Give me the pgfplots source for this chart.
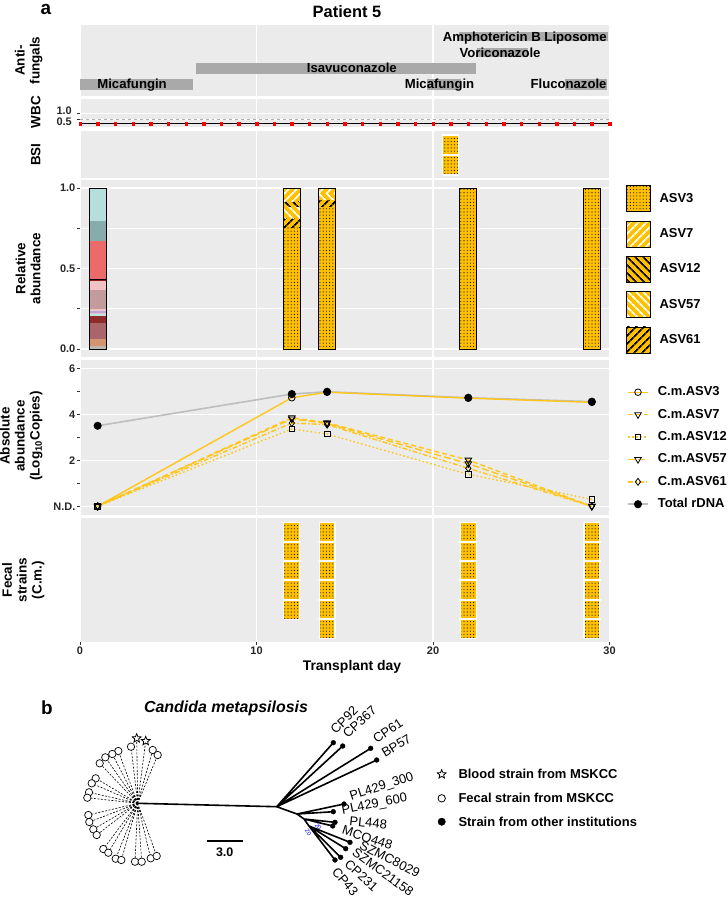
\documentclass[border=0pt]{standalone}
\usepackage{fontspec}
\setmainfont{Liberation Sans}
\usepackage{pgfplots}
\pgfplotsset{compat=1.18}
\usetikzlibrary{patterns.meta}

\definecolor{Panel}{HTML}{EBEBEB}
\definecolor{Drug}{HTML}{A9A9A9}
\definecolor{Gold}{HTML}{FFC000}
\definecolor{GoldLine}{HTML}{FFC61A}
\definecolor{TickC}{HTML}{333333}
\definecolor{Rdna}{HTML}{BEBEBE}
% day 1 community colours
\definecolor{cA}{HTML}{B6DFDC}
\definecolor{cB}{HTML}{87ADAA}
\definecolor{cC}{HTML}{EB6B6B}
\definecolor{cD}{HTML}{8B1A1A}
\definecolor{cE}{HTML}{F1C3C3}
\definecolor{cF}{HTML}{C29C9C}
\definecolor{cG}{HTML}{E5C2CF}
\definecolor{cH}{HTML}{B9A9D9}
\definecolor{cI}{HTML}{BFE3E0}
\definecolor{cJ}{HTML}{8E2B2B}
\definecolor{cK}{HTML}{A9666A}
\definecolor{cL}{HTML}{D2956F}
\definecolor{cM}{HTML}{BDB6AE}

\newcommand\tickfont{\fontsize{11}{12}\selectfont\bfseries}
\newcommand\titlefont{\fontsize{13.5}{15}\selectfont\bfseries}
\newcommand\drugfont{\fontsize{13.2}{15}\selectfont\bfseries}
\newcommand\treefont{\fontsize{13}{15}\selectfont}

\pgfdeclareplotmark{ostar}{%
  \pgfpathmoveto{\pgfqpointpolar{90}{\pgfplotmarksize}}%
  \pgfpathlineto{\pgfqpointpolar{126}{0.45\pgfplotmarksize}}%
  \pgfpathlineto{\pgfqpointpolar{162}{\pgfplotmarksize}}%
  \pgfpathlineto{\pgfqpointpolar{198}{0.45\pgfplotmarksize}}%
  \pgfpathlineto{\pgfqpointpolar{234}{\pgfplotmarksize}}%
  \pgfpathlineto{\pgfqpointpolar{270}{0.45\pgfplotmarksize}}%
  \pgfpathlineto{\pgfqpointpolar{306}{\pgfplotmarksize}}%
  \pgfpathlineto{\pgfqpointpolar{342}{0.45\pgfplotmarksize}}%
  \pgfpathlineto{\pgfqpointpolar{18}{\pgfplotmarksize}}%
  \pgfpathlineto{\pgfqpointpolar{54}{0.45\pgfplotmarksize}}%
  \pgfpathclose
  \pgfusepathqfillstroke
}

\tikzset{
  asvdots/.style={preaction={fill=Gold}, pattern={Dots[distance=3.2bp,radius=0.55bp]}, pattern color=black},
  asvseven/.style={preaction={fill=Gold}, pattern={Lines[angle=45,distance=6bp,line width=2bp]}, pattern color=white},
  asvtwelve/.style={preaction={fill=Gold}, pattern={Lines[angle=-45,distance=6bp,line width=2bp]}, pattern color=black},
  asvfiftyseven/.style={preaction={fill=Gold}, pattern={Lines[angle=-45,distance=6bp,line width=2bp]}, pattern color=white},
  asvsixtyone/.style={preaction={fill=Gold}, pattern={Lines[angle=45,distance=6bp,line width=2bp]}, pattern color=black},
}

\pgfplotsset{
  panel/.style={
    scale only axis, width=529.5bp, xmin=0, xmax=30,
    anchor=north west,
    axis background/.style={fill=Panel},
    separate axis lines, axis line style={draw=none},
    tick pos=left, tick align=outside,
    major tick length=3bp, minor tick length=3bp,
    xtick={0,10,20,30}, xticklabels={}, xtick style={draw=none},
    ytick style={draw=TickC, line width=0.6bp},
    xmajorgrids, ymajorgrids,
    major grid style={white, line width=1.1bp},
    ticklabel style={font=\tickfont, text=black!85},
    yticklabel style={inner sep=1.5bp},
    unbounded coords=jump,
  },
}

\begin{document}
\begin{tikzpicture}
\useasboundingbox (0,0) rectangle (728bp,-900bp);
\node[font=\fontsize{19}{21}\selectfont\bfseries, inner sep=0pt] at (46bp,-9bp) {a};
\node[font=\fontsize{16.5}{18}\selectfont\bfseries] at (347bp,-12bp) {Patient 5};

% ---------- y titles ----------
\node[font=\titlefont, rotate=90, anchor=south, align=center] at (46bp,-60.5bp) {Anti-\\fungals};
\node[font=\titlefont, rotate=90, anchor=south, align=center] at (44bp,-112bp) {WBC};
\node[font=\titlefont, rotate=90, anchor=south, align=center] at (44bp,-154.5bp) {BSI};
\node[font=\titlefont, rotate=90, anchor=south, align=center] at (44bp,-268.5bp) {Relative\\abundance};
\node[font=\titlefont, rotate=90, anchor=south, align=center] at (46bp,-436bp) {Absolute\\abundance\\(Log\textsubscript{10}Copies)};
\node[font=\titlefont, rotate=90, anchor=south, align=center] at (48bp,-580bp) {Fecal\\strains\\(C.m.)};
\node[font=\fontsize{14}{16}\selectfont\bfseries] at (352bp,-667bp) {Transplant day};
% WBC tick labels, set apart as in the reference
\node[font=\tickfont, text=black!85, anchor=east, inner sep=0pt] at (72bp,-111bp) {1.0};
\node[font=\tickfont, text=black!85, anchor=east, inner sep=0pt] at (72bp,-121.3bp) {0.5};

% ---------- antifungals ----------
\begin{axis}[panel, at={(80bp,-25bp)}, height=71bp, ymin=0.28, ymax=4.72, ytick=\empty]
  \addplot[fill=Drug, draw=none] coordinates {(0,0.66)(6.4,0.66)(6.4,1.34)(0,1.34)};
  \addplot[fill=Drug, draw=none] coordinates {(19.66,0.66)(21.6,0.66)(21.6,1.34)(19.66,1.34)};
  \addplot[fill=Drug, draw=none] coordinates {(27.5,0.66)(29.85,0.66)(29.85,1.34)(27.5,1.34)};
  \addplot[fill=Drug, draw=none] coordinates {(6.57,1.67)(22.45,1.67)(22.45,2.33)(6.57,2.33)};
  \addplot[fill=Drug, draw=none] coordinates {(22.5,2.7)(25.4,2.7)(25.4,3.3)(22.5,3.3)};
  \addplot[fill=Drug, draw=none] coordinates {(21.5,3.7)(29.9,3.7)(29.9,4.3)(21.5,4.3)};
  \node[font=\drugfont, anchor=base, yshift=-4.5bp] at (axis cs:2.95,1) {Micafungin};
  \node[font=\drugfont, anchor=base, yshift=-4.5bp] at (axis cs:20.37,1) {Micafungin};
  \node[font=\drugfont, anchor=base, yshift=-4.5bp] at (axis cs:27.68,1) {Fluconazole};
  \node[font=\drugfont, anchor=base, yshift=-4.5bp] at (axis cs:15.4,2) {Isavuconazole};
  \node[font=\drugfont, anchor=base, yshift=-4.5bp] at (axis cs:23.8,3) {Voriconazole};
  \node[font=\drugfont, anchor=base, yshift=-4.5bp] at (axis cs:25.2,4) {Amphotericin B Liposome};
\end{axis}

% ---------- WBC ----------
\begin{axis}[panel, at={(80bp,-99bp)}, height=28bp, ymin=-0.14, ymax=2.2,
  ytick={0.5,1}, yticklabels={,}]
  \addplot[black!30, dashed, line width=0.8bp] coordinates {(0,0.5)(30,0.5)};
  \addplot[black, line width=0.8bp] coordinates {(0,0.15)(30,0.15)};
  \addplot[only marks, mark=square*, mark size=1.2bp, red] coordinates {
    (0,0.15)(1,0.15)(2,0.15)(3,0.15)(4,0.15)(5,0.15)(6,0.15)(7,0.15)(8,0.15)(9,0.15)
    (10,0.15)(11,0.15)(12,0.15)(13,0.15)(14,0.15)(15,0.15)(16,0.15)(17,0.15)(18,0.15)(19,0.15)
    (20,0.15)(21,0.15)(22,0.15)(23,0.15)(24,0.15)(25,0.15)(26,0.15)(27,0.15)(28,0.15)(29,0.15)(30,0.15)};
\end{axis}

% ---------- BSI ----------
\begin{axis}[panel, at={(80bp,-131bp)}, height=47bp, ymin=0.35, ymax=2.7, ytick=\empty]
  \addplot[asvdots, draw=white, line width=1.2bp] coordinates {(20.55,0.5)(21.45,0.5)(21.45,2.5)(20.55,2.5)(20.55,0.5)};
  \addplot[white, line width=2bp] coordinates {(20.5,1.5)(21.5,1.5)};
\end{axis}

% ---------- relative abundance ----------
\begin{axis}[panel, at={(80bp,-180bp)}, height=177bp, ymin=-0.05, ymax=1.05,
  ytick={0,0.25,0.5,0.75,1}, yticklabels={0.0,,0.5,,1.0},
  legend image code/.code={\path[#1] (0bp,-13bp) rectangle (24bp,13bp);},
  legend style={at={(1,1)}, anchor=north west, xshift=16.5bp, yshift=-5bp,
    draw=none, fill=none, inner sep=0pt, row sep=9bp, column sep=9bp,
    nodes={inner sep=0pt}, font=\fontsize{13}{15}\selectfont\bfseries},
  legend cell align=left]
  % day 1
  \addplot[fill=cM, draw=none, forget plot] coordinates {(0.52,0)(1.48,0)(1.48,0.02)(0.52,0.02)};
  \addplot[fill=cL, draw=none, forget plot] coordinates {(0.52,0.02)(1.48,0.02)(1.48,0.06)(0.52,0.06)};
  \addplot[fill=cK, draw=none, forget plot] coordinates {(0.52,0.06)(1.48,0.06)(1.48,0.164)(0.52,0.164)};
  \addplot[fill=cJ, draw=none, forget plot] coordinates {(0.52,0.164)(1.48,0.164)(1.48,0.205)(0.52,0.205)};
  \addplot[fill=cI, draw=none, forget plot] coordinates {(0.52,0.205)(1.48,0.205)(1.48,0.215)(0.52,0.215)};
  \addplot[fill=cG, draw=none, forget plot] coordinates {(0.52,0.215)(1.48,0.215)(1.48,0.225)(0.52,0.225)};
  \addplot[fill=cH, draw=none, forget plot] coordinates {(0.52,0.225)(1.48,0.225)(1.48,0.235)(0.52,0.235)};
  \addplot[fill=cE, draw=none, forget plot] coordinates {(0.52,0.235)(1.48,0.235)(1.48,0.247)(0.52,0.247)};
  \addplot[fill=cF, draw=none, forget plot] coordinates {(0.52,0.247)(1.48,0.247)(1.48,0.367)(0.52,0.367)};
  \addplot[fill=cE, draw=none, forget plot] coordinates {(0.52,0.367)(1.48,0.367)(1.48,0.425)(0.52,0.425)};
  \addplot[fill=cD, draw=none, forget plot] coordinates {(0.52,0.425)(1.48,0.425)(1.48,0.434)(0.52,0.434)};
  \addplot[fill=cC, draw=none, forget plot] coordinates {(0.52,0.434)(1.48,0.434)(1.48,0.672)(0.52,0.672)};
  \addplot[fill=cB, draw=none, forget plot] coordinates {(0.52,0.672)(1.48,0.672)(1.48,0.797)(0.52,0.797)};
  \addplot[fill=cA, draw=none, forget plot] coordinates {(0.52,0.797)(1.48,0.797)(1.48,1)(0.52,1)};
  % day 12
  \addplot[asvdots, draw=none, forget plot] coordinates {(11.52,0)(12.48,0)(12.48,0.757)(11.52,0.757)};
  \addplot[asvsixtyone, draw=none, forget plot] coordinates {(11.52,0.757)(12.48,0.757)(12.48,0.813)(11.52,0.813)};
  \addplot[asvfiftyseven, draw=none, forget plot] coordinates {(11.52,0.813)(12.48,0.813)(12.48,0.886)(11.52,0.886)};
  \addplot[asvtwelve, draw=none, forget plot] coordinates {(11.52,0.886)(12.48,0.886)(12.48,0.917)(11.52,0.917)};
  \addplot[asvseven, draw=none, forget plot] coordinates {(11.52,0.917)(12.48,0.917)(12.48,1)(11.52,1)};
  % day 14
  \addplot[asvdots, draw=none, forget plot] coordinates {(13.52,0)(14.48,0)(14.48,0.886)(13.52,0.886)};
  \addplot[asvsixtyone, draw=none, forget plot] coordinates {(13.52,0.886)(14.48,0.886)(14.48,0.927)(13.52,0.927)};
  \addplot[asvfiftyseven, draw=none, forget plot] coordinates {(13.52,0.927)(14.48,0.927)(14.48,0.97)(13.52,0.97)};
  \addplot[asvseven, draw=none, forget plot] coordinates {(13.52,0.97)(14.48,0.97)(14.48,1)(13.52,1)};
  % days 22 and 29
  \addplot[asvdots, draw=none, forget plot] coordinates {(21.52,0)(22.48,0)(22.48,1)(21.52,1)};
  \addplot[asvdots, draw=none, forget plot] coordinates {(28.52,0)(29.48,0)(29.48,1)(28.52,1)};
  % outlines
  \addplot[black, line width=0.9bp, line cap=rect, forget plot] coordinates {
    (0.52,0)(1.48,0)(1.48,1)(0.52,1)(0.52,0)(nan,nan)
    (11.52,0)(12.48,0)(12.48,1)(11.52,1)(11.52,0)(nan,nan)
    (13.52,0)(14.48,0)(14.48,1)(13.52,1)(13.52,0)(nan,nan)
    (21.52,0)(22.48,0)(22.48,1)(21.52,1)(21.52,0)(nan,nan)
    (28.52,0)(29.48,0)(29.48,1)(28.52,1)(28.52,0)};
  \addplot[black, line width=0.9bp, forget plot] coordinates {(0.52,0.43)(1.48,0.43)};
  \addlegendimage{asvdots}\addlegendentry{ASV3}
  \addlegendimage{asvseven}\addlegendentry{ASV7}
  \addlegendimage{asvtwelve}\addlegendentry{ASV12}
  \addlegendimage{asvfiftyseven}\addlegendentry{ASV57}
  \addlegendimage{asvsixtyone}\addlegendentry{ASV61}
\end{axis}

% ---------- absolute abundance ----------
\begin{axis}[panel, at={(80bp,-360bp)}, height=155bp, ymin=-0.38, ymax=6.36,
  ytick={0,2,4,6}, yticklabels={N.D.,2,4,6}, minor ytick={1,3,5},
  legend image code/.code={\draw[mark repeat=2,mark phase=2,#1] plot coordinates {(0bp,0bp)(10bp,0bp)(20bp,0bp)};},
  legend style={at={(1,1)}, anchor=north west, xshift=17.5bp, yshift=-26bp,
    draw=none, fill=none, inner sep=0pt, row sep=10.4bp, column sep=9bp,
    nodes={inner sep=0pt, text height=9.5bp, text depth=2.5bp},
    font=\fontsize{13}{15}\selectfont\bfseries},
  legend cell align=left]
  \addplot[Rdna, line width=1.6bp, mark=*, mark size=3.2bp, mark options={black}, forget plot]
    coordinates {(1,3.5)(12,4.88)(14,4.98)(22,4.72)(29,4.55)};
  \addplot[GoldLine, line width=1.4bp, mark=o, mark size=3.3bp, mark options={solid, black, line width=0.8bp}]
    coordinates {(1,0)(12,4.72)(14,4.96)(22,4.70)(29,4.52)};
  \addlegendentry{C.m.ASV3}
  \addplot[GoldLine, line width=1.4bp, dash pattern=on 5bp off 3bp, mark=triangle, mark size=3.8bp, mark options={solid, black, line width=0.8bp, rotate=180}]
    coordinates {(1,0)(12,3.85)(14,3.63)(22,2.01)(29,0)};
  \addlegendentry{C.m.ASV7}
  \addplot[GoldLine, line width=1.4bp, dash pattern=on 1.5bp off 2.5bp, mark=square, mark size=2.8bp, mark options={solid, black, line width=0.8bp}]
    coordinates {(1,0)(12,3.36)(14,3.14)(22,1.39)(29,0.3)};
  \addlegendentry{C.m.ASV12}
  \addplot[GoldLine, line width=1.4bp, dash pattern=on 7bp off 3bp, mark=triangle, mark size=3.8bp, mark options={solid, black, line width=0.8bp, rotate=180}]
    coordinates {(1,0)(12,3.8)(14,3.6)(22,1.85)(29,0)};
  \addlegendentry{C.m.ASV57}
  \addplot[GoldLine, line width=1.4bp, dash pattern=on 5bp off 2bp on 1.5bp off 2bp, mark=diamond, mark size=3.5bp, mark options={solid, black, line width=0.8bp}]
    coordinates {(1,0)(12,3.62)(14,3.55)(22,1.65)(29,0)};
  \addlegendentry{C.m.ASV61}
  \addlegendimage{Rdna, line width=1.6bp, mark=*, mark size=3.2bp, mark options={black}}
  \addlegendentry{Total rDNA}
\end{axis}

% ---------- fecal strains ----------
\begin{axis}[panel, at={(80bp,-518bp)}, height=124bp, ymin=0.33, ymax=6.72, ytick=\empty,
  xticklabels={0,10,20,30}, xtick style={draw=TickC, line width=0.6bp},
  xticklabel style={inner sep=1.5bp}]
  \addplot[asvdots, draw=white, line width=1.2bp] coordinates {(11.55,1.5)(12.45,1.5)(12.45,6.5)(11.55,6.5)(11.55,1.5)};
  \addplot[asvdots, draw=white, line width=1.2bp] coordinates {(13.55,0.5)(14.45,0.5)(14.45,6.5)(13.55,6.5)(13.55,0.5)};
  \addplot[asvdots, draw=white, line width=1.2bp] coordinates {(21.55,0.5)(22.45,0.5)(22.45,6.5)(21.55,6.5)(21.55,0.5)};
  \addplot[asvdots, draw=white, line width=1.2bp] coordinates {(28.55,0.5)(29.45,0.5)(29.45,6.5)(28.55,6.5)(28.55,0.5)};
  \addplot[white, line width=2bp] coordinates {
    (11.5,2.5)(12.5,2.5)(nan,nan)(11.5,3.5)(12.5,3.5)(nan,nan)(11.5,4.5)(12.5,4.5)(nan,nan)(11.5,5.5)(12.5,5.5)(nan,nan)
    (13.5,1.5)(14.5,1.5)(nan,nan)(13.5,2.5)(14.5,2.5)(nan,nan)(13.5,3.5)(14.5,3.5)(nan,nan)(13.5,4.5)(14.5,4.5)(nan,nan)(13.5,5.5)(14.5,5.5)(nan,nan)
    (21.5,1.5)(22.5,1.5)(nan,nan)(21.5,2.5)(22.5,2.5)(nan,nan)(21.5,3.5)(22.5,3.5)(nan,nan)(21.5,4.5)(22.5,4.5)(nan,nan)(21.5,5.5)(22.5,5.5)(nan,nan)
    (28.5,1.5)(29.5,1.5)(nan,nan)(28.5,2.5)(29.5,2.5)(nan,nan)(28.5,3.5)(29.5,3.5)(nan,nan)(28.5,4.5)(29.5,4.5)(nan,nan)(28.5,5.5)(29.5,5.5)};
\end{axis}

% ---------- tree (panel b) ----------
\begin{axis}[at={(0bp,-690bp)}, anchor=north west, scale only axis, width=728bp, height=210bp,
  xmin=0, xmax=728, ymin=690, ymax=900, y dir=reverse, hide axis, clip=false,
  unbounded coords=jump]
  \node[font=\fontsize{19}{21}\selectfont\bfseries] at (axis cs:47,708) {b};
  \node[font=\fontsize{16}{18}\selectfont\bfseries\itshape] at (axis cs:226,708) {Candida metapsilosis};
  % dashed spokes
  \addplot[black, line width=0.6bp, dash pattern=on 2bp off 1.5bp] coordinates {
    (137.7,803.3)(131,746.7)(nan,nan)(137.7,803.3)(136.7,738.3)(nan,nan)(137.7,803.3)(145.7,741)(nan,nan)
    (137.7,803.3)(152.7,750)(nan,nan)(137.7,803.3)(157.7,755)(nan,nan)
    (137.7,803.3)(118.3,751)(nan,nan)(137.7,803.3)(112.3,754)(nan,nan)(137.7,803.3)(105.3,757.3)(nan,nan)(137.7,803.3)(99.7,763.3)(nan,nan)
    (137.7,803.3)(95.7,778.3)(nan,nan)(137.7,803.3)(91.7,783.3)(nan,nan)(137.7,803.3)(89,792.3)(nan,nan)(137.7,803.3)(87.3,797.7)(nan,nan)
    (137.7,803.3)(88.3,815)(nan,nan)(137.7,803.3)(89.3,822)(nan,nan)(137.7,803.3)(93.3,829.3)(nan,nan)(137.7,803.3)(96.7,835)(nan,nan)
    (137.7,803.3)(103.3,849)(nan,nan)(137.7,803.3)(108.3,852.7)(nan,nan)(137.7,803.3)(115.7,858.7)(nan,nan)(137.7,803.3)(121.3,860)(nan,nan)
    (137.7,803.3)(135,861.7)(nan,nan)(137.7,803.3)(141.7,861.7)(nan,nan)(137.7,803.3)(150.7,858.3)(nan,nan)(137.7,803.3)(156.7,856)};
  % solid branches
  \addplot[black, line width=1.6bp, line cap=round] coordinates {
    (137.7,803.3)(276.7,806.7)(nan,nan)
    (276.7,806.7)(333.3,742.7)(nan,nan)(276.7,806.7)(342.7,746)(nan,nan)
    (276.7,806.7)(370.7,748.3)(nan,nan)(276.7,806.7)(376.7,760)(nan,nan)
    (276.7,806.7)(297,814)(nan,nan)
    (297,814)(344,804)(nan,nan)(297,814)(333.3,811.7)(nan,nan)
    (297,814)(304,819)(nan,nan)
    (304,819)(335,822.3)(nan,nan)(304,819)(332.7,826)(nan,nan)
    (304,819)(309,826)(nan,nan)
    (309,826)(350,842.3)(nan,nan)(309,826)(345.7,848.7)(nan,nan)
    (309,826)(340.7,857.3)(nan,nan)(309,826)(335,860)};
  % tips
  \addplot[only marks, mark=*, mark size=3.7bp, mark options={fill=white, draw=black, line width=0.7bp}] coordinates {
    (131,746.7)(152.7,750)(157.7,755)(118.3,751)(112.3,754)(105.3,757.3)(99.7,763.3)
    (95.7,778.3)(91.7,783.3)(89,792.3)(87.3,797.7)(88.3,815)(89.3,822)(93.3,829.3)(96.7,835)
    (103.3,849)(108.3,852.7)(115.7,858.7)(121.3,860)(135,861.7)(141.7,861.7)(150.7,858.3)(156.7,856)};
  \addplot[only marks, mark=ostar, mark size=4.6bp, mark options={fill=white, draw=black, line width=0.8bp}] coordinates {
    (136.7,738.3)(145.7,741)};
  \addplot[only marks, mark=*, mark size=2.4bp, black] coordinates {
    (333.3,742.7)(342.7,746)(370.7,748.3)(376.7,760)(344,804)(333.3,811.7)(335,822.3)(332.7,826)
    (350,842.3)(345.7,848.7)(340.7,857.3)(335,860)};
  % tip labels
  \node[font=\treefont, rotate=45, anchor=south west, inner sep=0pt] at (axis cs:336,735) {CP92};
  \node[font=\treefont, rotate=42, anchor=south west, inner sep=0pt] at (axis cs:348,739) {CP367};
  \node[font=\treefont, rotate=34, anchor=south west, inner sep=0pt] at (axis cs:377,744) {CP61};
  \node[font=\treefont, rotate=31, anchor=south west, inner sep=0pt] at (axis cs:385,758) {BP57};
  \node[font=\treefont, rotate=18, anchor=south west, inner sep=0pt] at (axis cs:352,803) {PL429\_300};
  \node[font=\treefont, rotate=11, anchor=south west, inner sep=0pt] at (axis cs:343,817) {PL429\_600};
  \node[font=\treefont, rotate=-6, anchor=north west, inner sep=0pt] at (axis cs:350,816) {PL448};
  \node[font=\treefont, rotate=-18, anchor=north west, inner sep=0pt] at (axis cs:344,825) {MCO448};
  \node[font=\treefont, rotate=-27, anchor=north west, inner sep=0pt] at (axis cs:362.7,840) {SZMC8029};
  \node[font=\treefont, rotate=-36, anchor=north west, inner sep=0pt] at (axis cs:356.7,847.3) {SZMC21158};
  \node[font=\treefont, rotate=-43, anchor=north west, inner sep=0pt] at (axis cs:350,858.3) {CP231};
  \node[font=\treefont, rotate=-50, anchor=north west, inner sep=0pt] at (axis cs:338.3,866) {CP43};
  \node[font=\fontsize{6}{7}\selectfont, text=blue, rotate=-55] at (axis cs:318.3,826.7) {20};
  \node[font=\fontsize{6}{7}\selectfont, text=blue, rotate=-60] at (axis cs:308.3,832.7) {20};
  % scale bar
  \addplot[black, line width=1.6bp] coordinates {(206.7,841)(242.7,841)};
  \node[font=\fontsize{12.5}{14}\selectfont\bfseries] at (axis cs:224.7,852) {3.0};
  % legend
  \addplot[only marks, mark=ostar, mark size=4.6bp, mark options={fill=white, draw=black, line width=0.8bp}] coordinates {(441.7,774.3)};
  \addplot[only marks, mark=*, mark size=3.7bp, mark options={fill=white, draw=black, line width=0.8bp}] coordinates {(441.7,798.3)};
  \addplot[only marks, mark=*, mark size=3.7bp, black] coordinates {(441.7,821.7)};
  \node[font=\fontsize{13}{15}\selectfont\bfseries, anchor=west] at (axis cs:455,774.3) {Blood strain from MSKCC};
  \node[font=\fontsize{13}{15}\selectfont\bfseries, anchor=west] at (axis cs:455,798.3) {Fecal strain from MSKCC};
  \node[font=\fontsize{13}{15}\selectfont\bfseries, anchor=west] at (axis cs:455,821.7) {Strain from other institutions};
\end{axis}
\end{tikzpicture}
\end{document}
